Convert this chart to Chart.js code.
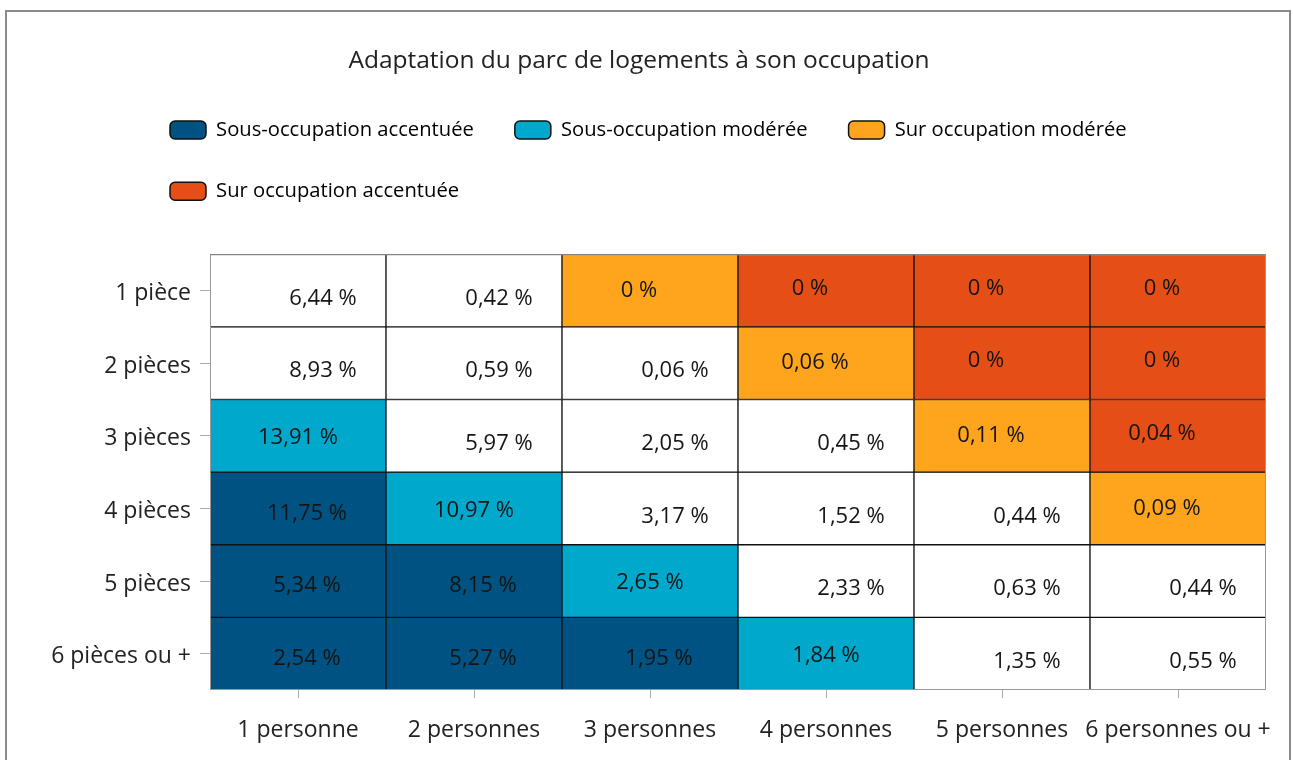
<!DOCTYPE html>
<html lang="fr">
<head>
<meta charset="utf-8">
<title>Adaptation du parc de logements</title>
<script src="https://cdn.jsdelivr.net/npm/chart.js@4.4.1/dist/chart.umd.min.js"></script>
<style>
  html, body { margin: 0; padding: 0; background: #fff; overflow: hidden; }
  #wrap { width: 1293px; height: 760px; position: relative; }
</style>
</head>
<body>
<div id="wrap"><canvas id="heat"></canvas></div>
<script>
// axes
const personnes = ["1 personne", "2 personnes", "3 personnes", "4 personnes", "5 personnes", "6 personnes ou +"];
const pieces = ["1 pièce", "2 pièces", "3 pièces", "4 pièces", "5 pièces", "6 pièces ou +"];

// share of dwellings (%) per row (pièces) and column (personnes)
const row1 = [6.44, 0.42, 0, 0, 0, 0];
const row2 = [8.93, 0.59, 0.06, 0.06, 0, 0];
const row3 = [13.91, 5.97, 2.05, 0.45, 0.11, 0.04];
const row4 = [11.75, 10.97, 3.17, 1.52, 0.44, 0.09];
const row5 = [5.34, 8.15, 2.65, 2.33, 0.63, 0.44];
const row6 = [2.54, 5.27, 1.95, 1.84, 1.35, 0.55];
const values = [row1, row2, row3, row4, row5, row6];

// occupation class per cell: 0 normal, 1 sous-acc., 2 sous-mod., 3 sur-mod., 4 sur-acc.
const classes = [
    [0, 0, 3, 4, 4, 4],
    [0, 0, 0, 3, 4, 4],
    [2, 0, 0, 0, 3, 4],
    [1, 2, 0, 0, 0, 3],
    [1, 1, 2, 0, 0, 0],
    [1, 1, 1, 2, 0, 0],
];

const legendLabels = ["Sous-occupation accentuée", "Sous-occupation modérée", "Sur occupation modérée", "Sur occupation accentuée"];

const classColors = ["#ffffff", "#005282", "#00a8cc", "#ffa41d", "#e54e17"];
// text nudges per class, the source positions labels a bit loosely
const textShift = [[25, 8], [9, 5], [0, 2], [-11, 0], [-16, -2]];

const fontFamily = "'Open Sans', 'DejaVu Sans', sans-serif";
Chart.defaults.font.family = fontFamily;
Chart.defaults.color = "#222";

const datasets = values.map((row, r) => ({
    label: pieces[r],
    data: row.map(() => 1),
    backgroundColor: classes[r].map((c) => classColors[c]),
    borderColor: "#111",
    borderWidth: 1,
    borderSkipped: false,
    barPercentage: 1,
    categoryPercentage: 1,
}));

function fmt(v) {
    if (v === 0) return "0 %";
    return v.toFixed(2).replace(".", ",") + " %";
}

const frame = {
    id: "frame",
    beforeDraw(chart) {
        const ctx = chart.ctx;
        ctx.save();
        ctx.strokeStyle = "#8a8a8a";
        ctx.lineWidth = 2;
        ctx.strokeRect(6, 11, 1284, 900);
        ctx.restore();
    },
};

const legendMargin = {
    id: "legendMargin",
    beforeInit(chart) {
        const fit = chart.legend.fit;
        chart.legend.fit = function () {
            fit.bind(chart.legend)();
            this.height += 43;
        };
    },
    afterLayout(chart) {
        chart.legend.left = 170 - chart.legend.options.labels.padding;
    },
};

const cellLabels = {
    id: "cellLabels",
    afterDatasetsDraw(chart) {
        const ctx = chart.ctx;
        const area = chart.chartArea;
        ctx.save();
        ctx.font = "22px " + fontFamily;
        ctx.fillStyle = "#151515";
        ctx.textAlign = "center";
        ctx.textBaseline = "middle";
        values.forEach((row, r) => {
            const meta = chart.getDatasetMeta(r);
            meta.data.forEach((bar, c) => {
                const sh = textShift[classes[r][c]];
                const cy = (bar.y + bar.base) / 2;
                ctx.fillText(fmt(row[c]), bar.x + sh[0], cy + sh[1]);
            });
        });
        ctx.strokeStyle = "#999";
        ctx.lineWidth = 1;
        ctx.strokeRect(area.left + 0.5, area.top + 0.5, area.right - area.left - 1, area.bottom - area.top - 1);
        ctx.restore();
    },
};

const config = {
    type: "bar",
    data: {
        labels: personnes,
        datasets: datasets,
    },
    options: {
        responsive: true,
        maintainAspectRatio: false,
        animation: false,
        layout: {
            padding: { top: 12, left: 12, right: 27, bottom: 0 },
        },
        scales: {
            x: {
                stacked: true,
                afterFit: (scale) => {
                    scale.height = 70;
                },
                grid: { drawOnChartArea: false, offset: false, tickLength: 8, color: "#aaa" },
                border: { display: false },
                ticks: { padding: 19, autoSkip: false, font: { size: 23 }, color: "#222", maxRotation: 0 },
            },
            y: {
                stacked: true,
                reverse: true,
                min: 0,
                max: 6,
                afterBuildTicks: (scale) => {
                    scale.ticks = pieces.map((_, i) => ({ value: i + 0.5 }));
                },
                afterFit: (scale) => {
                    scale.width = 198;
                },
                grid: { drawOnChartArea: false, tickLength: 10, color: "#aaa" },
                border: { display: false },
                ticks: {
                    padding: 9,
                    labelOffset: 3,
                    autoSkip: false,
                    font: { size: 23 },
                    color: "#222",
                    callback: (v, i) => pieces[i],
                },
            },
        },
        plugins: {
            title: {
                display: true,
                text: "Adaptation du parc de logements à son occupation",
                font: { size: 24.5, weight: "normal" },
                color: "#222",
                padding: { top: 34, bottom: 3.5 },
            },
            legend: {
                display: true,
                position: "top",
                align: "start",
                onClick: () => {},
                labels: {
                    boxWidth: 36,
                    boxHeight: 18,
                    padding: 41,
                    useBorderRadius: true,
                    borderRadius: 5,
                    font: { size: 20.2 },
                    color: "#222",
                    generateLabels: () =>
                        legendLabels.map((t, i) => ({
                            text: t,
                            fillStyle: classColors[i + 1],
                            strokeStyle: "#111",
                            lineWidth: 1.5,
                            borderRadius: 5,
                            hidden: false,
                        })),
                },
            },
            tooltip: { enabled: false },
        },
    },
    plugins: [frame, legendMargin, cellLabels],
};

const heatChart = new Chart(document.getElementById("heat"), config);
</script>
</body>
</html>
